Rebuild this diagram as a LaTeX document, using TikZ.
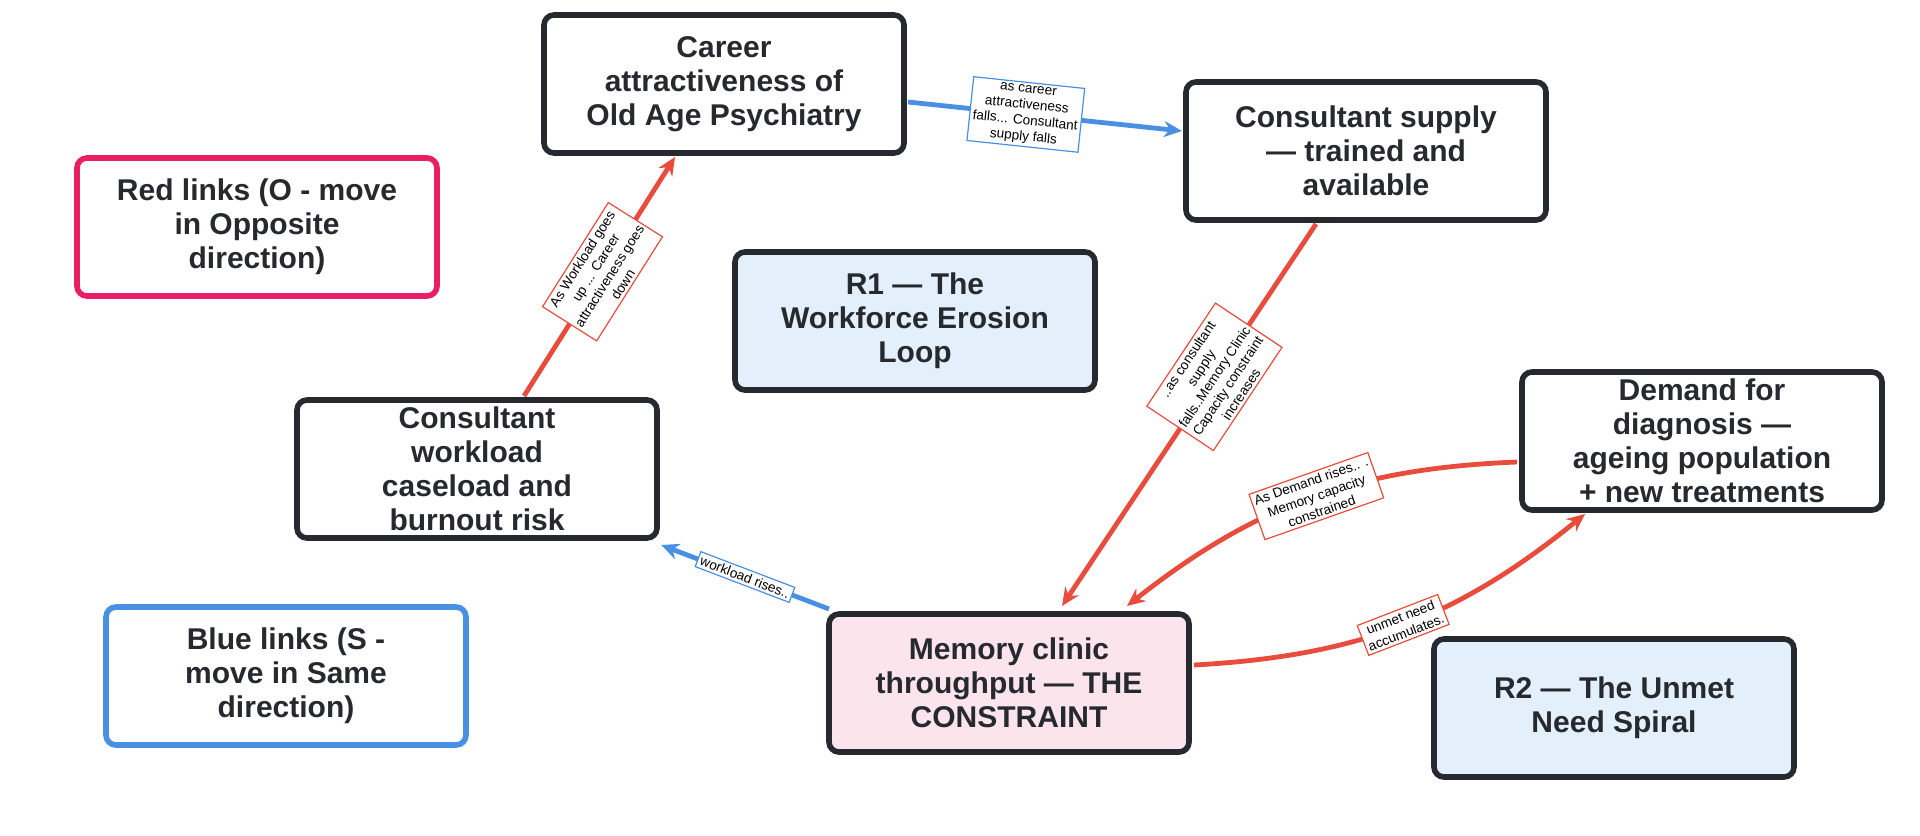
\documentclass[tikz,border=0pt]{standalone}
\usepackage{fontspec}
\setmainfont{Liberation Sans}
\usetikzlibrary{arrows.meta}
\definecolor{dk}{HTML}{26292E}
\definecolor{rd}{HTML}{E74C3C}
\definecolor{bl}{HTML}{4A90E2}
\definecolor{pk}{HTML}{E91E63}
\definecolor{lb}{HTML}{E3F0FB}
\definecolor{lp}{HTML}{FBE4EC}
\begin{document}
\begin{tikzpicture}[x=0.5pt,y=-0.5pt,
 box/.style={draw=dk,line width=2.8pt,rounded corners=5pt,fill=white,minimum width=180pt,minimum height=69pt,align=center,font=\fontsize{15}{17}\selectfont\bfseries,text=dk},
 lab/.style={draw,line width=0.6pt,fill=white,align=center,font=\fontsize{6.8}{8}\selectfont,text=black,inner sep=1.5pt,sloped},
 rarr/.style={draw=rd,line width=2.4pt,-{Stealth[length=9pt,width=8pt]}},
 barr/.style={draw=bl,line width=2.4pt,-{Stealth[length=9pt,width=8pt]}}]
\useasboundingbox (0,0) rectangle (1920,835);
\node[box] (car) at (724,84) {Career\\attractiveness of\\Old Age Psychiatry};
\node[box] (sup) at (1366,151) {Consultant supply\\— trained and\\available};
\node[box,draw=pk] (red) at (257,227) {Red links (O - move\\in Opposite\\direction)};
\node[box,fill=lb] (r1) at (915,321) {R1 — The\\Workforce Erosion\\Loop};
\node[box] (dem) at (1702,441) {Demand for\\diagnosis —\\ageing population\\+ new treatments};
\node[box] (wl) at (477,469) {Consultant\\workload\\caseload and\\burnout risk};
\node[box,draw=bl] (blue) at (286,676) {Blue links (S -\\move in Same\\direction)};
\node[box,fill=lp] (mem) at (1009,683) {Memory clinic\\throughput — THE\\CONSTRAINT};
\node[box,fill=lb] (r2) at (1614,708) {R2 — The Unmet\\Need Spiral};
\coordinate (c1) at (908,102); \coordinate (c2) at (1182,131);
\draw[barr] (c1) -- node[lab,draw=bl,pos=0.43] {as career\\attractiveness\\falls... Consultant\\supply falls} (c2);
\coordinate (w1) at (524,396); \coordinate (w2) at (675,157);
\draw[rarr] (w1) -- node[lab,draw=rd,pos=0.52] {As Workload goes\\up ... Career\\attractiveness goes\\down} (w2);
\coordinate (s1) at (1316,224); \coordinate (s2) at (1062,606);
\draw[rarr] (s1) -- node[lab,draw=rd,pos=0.4] {..as consultant\\supply\\falls..Memory Clinic\\Capacity constraint\\increases} (s2);
\coordinate (d1) at (1517,462); \coordinate (d2) at (1127,606);
\draw[rarr] (d1) to[bend right=18] node[lab,draw=rd,pos=0.48] {As Demand rises.. .\\Memory capacity\\constrained} (d2);
\coordinate (m1) at (1194,665); \coordinate (m2) at (1585,514);
\draw[rarr] (m1) to[bend right=18] node[lab,draw=rd,pos=0.5] {unmet need\\accumulates.} (m2);
\coordinate (b1) at (829,609); \coordinate (b2) at (661,545);
\draw[barr] (b1) -- node[lab,draw=bl,pos=0.5] {workload rises..} (b2);
\end{tikzpicture}
\end{document}
